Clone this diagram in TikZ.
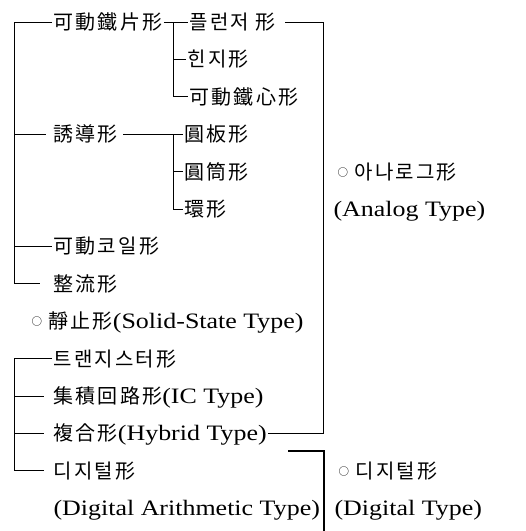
\documentclass[tikz,border=0pt]{standalone}
\usepackage{fontspec}
\setmainfont{Liberation Serif}[FakeStretch=1.18]
\newfontfamily\cjk{Noto Sans CJK KR}[LetterSpace=11]
\newcommand\ck[1]{{\cjk\fontsize{20pt}{22pt}\selectfont #1}}
\newcommand\smallcirc{\raisebox{3pt}{\cjk\fontsize{10.5pt}{10.5pt}\selectfont ○}}
\tikzset{
  lbl/.style={anchor=west, inner sep=0pt, outer sep=1.5pt, text height=18pt, text depth=3pt,
              font=\fontsize{22pt}{24pt}\selectfont},
  ln/.style={line width=1pt, black},
  lnthick/.style={line width=1.6pt, black}
}
\begin{document}
\begin{tikzpicture}[x=1pt,y=-1pt]
\useasboundingbox (0,0) rectangle (526,531);
% coordinates of the bracket spines
\coordinate (L) at (14,0);
\coordinate (M) at (173,0);
\coordinate (R) at (323,0);
% analog group
\node[lbl] (n1)  at (52,22)    {\ck{可動鐵片形}};
\node[lbl] (n11) at (188,22)   {\ck{플런저 形}};
\node[lbl] (n12) at (186,59.4) {\ck{힌지形}};
\node[lbl] (n13) at (188,96.8) {\ck{可動鐵心形}};
\node[lbl] (n2)  at (52,134.2) {\ck{誘導形}};
\node[lbl] (n21) at (183,134.2){\ck{圓板形}};
\node[lbl] (n22) at (183,171.6){\ck{圓筒形}};
\node[lbl] (n23) at (183,209)  {\ck{環形}};
\node[lbl] (n3)  at (52,246.4) {\ck{可動코일形}};
\node[lbl] (n4)  at (52,283.8) {\ck{整流形}};
% static
\node[lbl] (s)   at (30,321.2) {\smallcirc\ \ck{靜止形}(Solid-State Type)};
\node[lbl] (m1)  at (52,358.6) {\ck{트랜지스터形}};
\node[lbl] (m2)  at (52,396)   {\ck{集積回路形}(IC Type)};
\node[lbl] (m3)  at (52,433.4) {\ck{複合形}(Hybrid Type)};
\node[lbl] (m4)  at (52,470.8) {\ck{디지털形}};
\node[lbl] (m5)  at (52,508.2) {(Digital Arithmetic Type)};
% right labels
\node[lbl] (an)  at (336,171.6){\smallcirc\ \ck{아나로그形}};
\node[lbl] (at)  at (332,209)  {(Analog Type)};
\node[lbl] (dg)  at (337,470.8){\smallcirc\ \ck{디지털形}};
\node[lbl] (dt)  at (333,508.2){(Digital Type)};
% connectors
\draw[ln] (n1.west) -- (n1.west -| L) -- (n4.west -| L) -- ([xshift=-12pt]n4.west);
\draw[ln] (n2.west -| L) -- ([xshift=-6pt]n2.west);
\draw[ln] (n3.west -| L) -- (n3.west);
\draw[ln] (n1.east) -- (n11.west);
\draw[ln] (n1.east -| M) -- (n13.west -| M) -- (n13.west);
\draw[ln] (n12.west -| M) -- (n12.west);
\draw[ln] ([xshift=4pt]n2.east) -- (n21.west);
\draw[ln] (n21.west -| M) -- (n23.west -| M) -- (n23.west);
\draw[ln] (n22.west -| M) -- (n22.west);
\draw[ln] ([xshift=8pt]n11.east) -- (n11.east -| R) -- (m3.east -| R) -- (m3.east);
\draw[ln] (m1.west) -- (m1.west -| L) -- (m4.west -| L) -- ([xshift=-8pt]m4.west);
\draw[ln] (m2.west -| L) -- ([xshift=-8pt]m2.west);
\draw[ln] (m3.west -| L) -- ([xshift=-8pt]m3.west);
\coordinate (D)  at (288,451);
\coordinate (Db) at (324,531);
\draw[lnthick] (D) -| (Db);
\end{tikzpicture}
\end{document}
